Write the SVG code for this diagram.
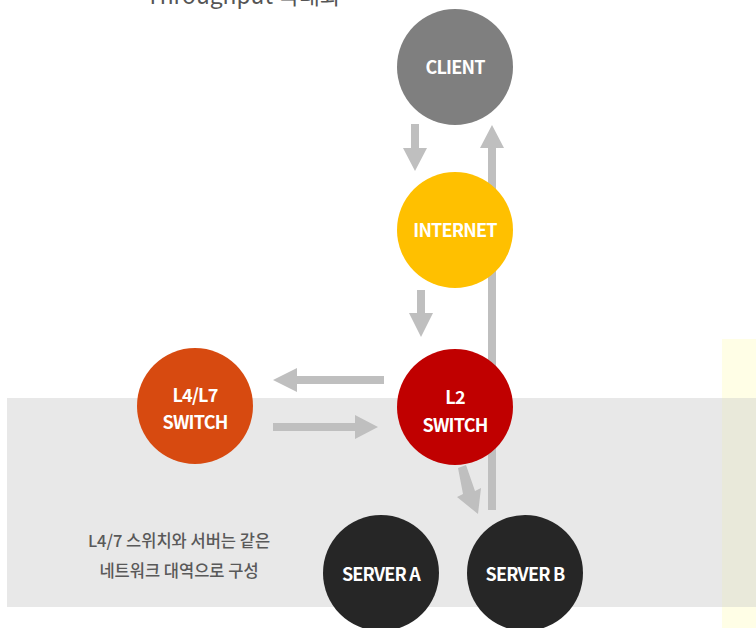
<svg xmlns="http://www.w3.org/2000/svg" width="756" height="628" viewBox="0 0 756 628">
<style>
.lbl{font-family:"Noto Sans CJK KR","Noto Sans",sans-serif;font-weight:bold;font-size:18px;fill:#fff;text-anchor:middle;letter-spacing:-0.8px}
.note{font-family:"Noto Sans CJK KR","Noto Sans",sans-serif;font-weight:500;font-size:16.5px;fill:#595959;text-anchor:middle}
.arr{fill:#bfbfbf}
</style>
<rect width="756" height="628" fill="#fff"/>
<g id="background">
<rect x="7" y="398" width="749" height="209" fill="#e8e8e8"/>
<rect x="722" y="339" width="34" height="59" fill="#fffee6"/>
<rect x="722" y="398" width="34" height="209" fill="#e9e9da"/>
<rect x="722" y="607" width="34" height="21" fill="#fffee6"/>
</g>
<text x="146" y="4" font-family="'Noto Sans CJK KR','Noto Sans',sans-serif" font-size="22.8" fill="#555">Throughput 극대화</text>
<g id="connectors">
<polygon class="arr" points="411,124 419,124 419,148 427,148 415,171 403,148 411,148"/>
<polygon class="arr" points="417,290 425,290 425,313 433,313 421,337 409,313 417,313"/>
<polygon class="arr" points="488,510 496,510 496,148 504,148 492,125 480,148 488,148"/>
<polygon class="arr" points="384,376 384,384 297,384 297,392 273,380 297,368 297,376"/>
<polygon class="arr" points="273,423 273,431 355,431 355,439 378,427 355,415 355,423"/>
<polygon class="arr" points="458,468 466,465 475,491 481,488 478,514 457,497 463,494"/>
</g>
<g id="client"><circle cx="455" cy="67" r="58" fill="#7f7f7f"/><text class="lbl" x="455" y="74">CLIENT</text></g>
<g id="internet"><circle cx="455" cy="230" r="58" fill="#ffc000"/><text class="lbl" x="455" y="237">INTERNET</text></g>
<g id="l2switch"><circle cx="455" cy="407" r="58" fill="#c00000"/><text class="lbl" x="455" y="404">L2</text><text class="lbl" x="455" y="432">SWITCH</text></g>
<g id="l4l7switch"><circle cx="195" cy="406" r="58" fill="#d74a10"/><text class="lbl" x="195" y="402">L4/L7</text><text class="lbl" x="195" y="429">SWITCH</text></g>
<g id="servera"><circle cx="381" cy="573" r="58" fill="#262626"/><text class="lbl" x="381" y="581" letter-spacing="-1.2">SERVER A</text></g>
<g id="serverb"><circle cx="525" cy="573" r="58" fill="#262626"/><text class="lbl" x="525" y="581" letter-spacing="-1.2">SERVER B</text></g>
<g id="note">
<text class="note" x="179" y="547">L4/7 스위치와 서버는 같은</text>
<text class="note" x="179" y="577">네트워크 대역으로 구성</text>
</g>
</svg>
